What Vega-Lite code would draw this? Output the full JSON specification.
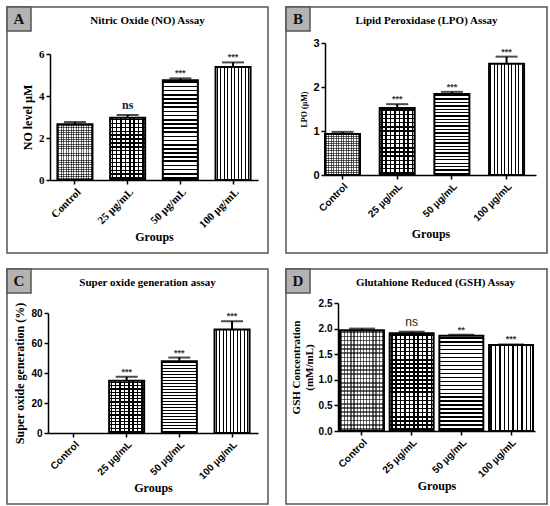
{
  "$schema": "https://vega.github.io/schema/vega-lite/v6.json",
  "background": "white",
  "padding": {"left": 5, "top": 5, "right": 0, "bottom": 0},
  "columns": 2,
  "align": "each",
  "spacing": {"row": 13, "column": 15},
  "params": [
    {"name": "gH24", "value": {"gradient": "linear", "x1": 0, "y1": 0, "x2": 0, "y2": 1, "stops": [
      {"offset":0.0125,"color":"#0000"},{"offset":0.0125,"color":"#000"},{"offset":0.0292,"color":"#000"},{"offset":0.0292,"color":"#0000"},
      {"offset":0.0542,"color":"#0000"},{"offset":0.0542,"color":"#000"},{"offset":0.0708,"color":"#000"},{"offset":0.0708,"color":"#0000"},
      {"offset":0.0958,"color":"#0000"},{"offset":0.0958,"color":"#000"},{"offset":0.1125,"color":"#000"},{"offset":0.1125,"color":"#0000"},
      {"offset":0.1375,"color":"#0000"},{"offset":0.1375,"color":"#000"},{"offset":0.1542,"color":"#000"},{"offset":0.1542,"color":"#0000"},
      {"offset":0.1792,"color":"#0000"},{"offset":0.1792,"color":"#000"},{"offset":0.1958,"color":"#000"},{"offset":0.1958,"color":"#0000"},
      {"offset":0.2208,"color":"#0000"},{"offset":0.2208,"color":"#000"},{"offset":0.2375,"color":"#000"},{"offset":0.2375,"color":"#0000"},
      {"offset":0.2625,"color":"#0000"},{"offset":0.2625,"color":"#000"},{"offset":0.2792,"color":"#000"},{"offset":0.2792,"color":"#0000"},
      {"offset":0.3042,"color":"#0000"},{"offset":0.3042,"color":"#000"},{"offset":0.3208,"color":"#000"},{"offset":0.3208,"color":"#0000"},
      {"offset":0.3458,"color":"#0000"},{"offset":0.3458,"color":"#000"},{"offset":0.3625,"color":"#000"},{"offset":0.3625,"color":"#0000"},
      {"offset":0.3875,"color":"#0000"},{"offset":0.3875,"color":"#000"},{"offset":0.4042,"color":"#000"},{"offset":0.4042,"color":"#0000"},
      {"offset":0.4292,"color":"#0000"},{"offset":0.4292,"color":"#000"},{"offset":0.4458,"color":"#000"},{"offset":0.4458,"color":"#0000"},
      {"offset":0.4708,"color":"#0000"},{"offset":0.4708,"color":"#000"},{"offset":0.4875,"color":"#000"},{"offset":0.4875,"color":"#0000"},
      {"offset":0.5125,"color":"#0000"},{"offset":0.5125,"color":"#000"},{"offset":0.5292,"color":"#000"},{"offset":0.5292,"color":"#0000"},
      {"offset":0.5542,"color":"#0000"},{"offset":0.5542,"color":"#000"},{"offset":0.5708,"color":"#000"},{"offset":0.5708,"color":"#0000"},
      {"offset":0.5958,"color":"#0000"},{"offset":0.5958,"color":"#000"},{"offset":0.6125,"color":"#000"},{"offset":0.6125,"color":"#0000"},
      {"offset":0.6375,"color":"#0000"},{"offset":0.6375,"color":"#000"},{"offset":0.6542,"color":"#000"},{"offset":0.6542,"color":"#0000"},
      {"offset":0.6792,"color":"#0000"},{"offset":0.6792,"color":"#000"},{"offset":0.6958,"color":"#000"},{"offset":0.6958,"color":"#0000"},
      {"offset":0.7208,"color":"#0000"},{"offset":0.7208,"color":"#000"},{"offset":0.7375,"color":"#000"},{"offset":0.7375,"color":"#0000"},
      {"offset":0.7625,"color":"#0000"},{"offset":0.7625,"color":"#000"},{"offset":0.7792,"color":"#000"},{"offset":0.7792,"color":"#0000"},
      {"offset":0.8042,"color":"#0000"},{"offset":0.8042,"color":"#000"},{"offset":0.8208,"color":"#000"},{"offset":0.8208,"color":"#0000"},
      {"offset":0.8458,"color":"#0000"},{"offset":0.8458,"color":"#000"},{"offset":0.8625,"color":"#000"},{"offset":0.8625,"color":"#0000"},
      {"offset":0.8875,"color":"#0000"},{"offset":0.8875,"color":"#000"},{"offset":0.9042,"color":"#000"},{"offset":0.9042,"color":"#0000"},
      {"offset":0.9292,"color":"#0000"},{"offset":0.9292,"color":"#000"},{"offset":0.9458,"color":"#000"},{"offset":0.9458,"color":"#0000"},
      {"offset":0.9708,"color":"#0000"},{"offset":0.9708,"color":"#000"},{"offset":0.9875,"color":"#000"},{"offset":0.9875,"color":"#0000"}
    ]}},
    {"name": "gV10", "value": {"gradient": "linear", "x1": 0, "y1": 0, "x2": 1, "y2": 0, "stops": [
      {"offset":0.03,"color":"#0000"},{"offset":0.03,"color":"#000"},{"offset":0.065,"color":"#000"},{"offset":0.065,"color":"#0000"},
      {"offset":0.13,"color":"#0000"},{"offset":0.13,"color":"#000"},{"offset":0.165,"color":"#000"},{"offset":0.165,"color":"#0000"},
      {"offset":0.23,"color":"#0000"},{"offset":0.23,"color":"#000"},{"offset":0.265,"color":"#000"},{"offset":0.265,"color":"#0000"},
      {"offset":0.33,"color":"#0000"},{"offset":0.33,"color":"#000"},{"offset":0.365,"color":"#000"},{"offset":0.365,"color":"#0000"},
      {"offset":0.43,"color":"#0000"},{"offset":0.43,"color":"#000"},{"offset":0.465,"color":"#000"},{"offset":0.465,"color":"#0000"},
      {"offset":0.53,"color":"#0000"},{"offset":0.53,"color":"#000"},{"offset":0.565,"color":"#000"},{"offset":0.565,"color":"#0000"},
      {"offset":0.63,"color":"#0000"},{"offset":0.63,"color":"#000"},{"offset":0.665,"color":"#000"},{"offset":0.665,"color":"#0000"},
      {"offset":0.73,"color":"#0000"},{"offset":0.73,"color":"#000"},{"offset":0.765,"color":"#000"},{"offset":0.765,"color":"#0000"},
      {"offset":0.83,"color":"#0000"},{"offset":0.83,"color":"#000"},{"offset":0.865,"color":"#000"},{"offset":0.865,"color":"#0000"},
      {"offset":0.93,"color":"#0000"},{"offset":0.93,"color":"#000"},{"offset":0.965,"color":"#000"},{"offset":0.965,"color":"#0000"}
    ]}},
    {"name": "gH16", "value": {"gradient": "linear", "x1": 0, "y1": 0, "x2": 0, "y2": 1, "stops": [
      {"offset":0.0203,"color":"#0000"},{"offset":0.0203,"color":"#000"},{"offset":0.0422,"color":"#000"},{"offset":0.0422,"color":"#0000"},
      {"offset":0.0828,"color":"#0000"},{"offset":0.0828,"color":"#000"},{"offset":0.1047,"color":"#000"},{"offset":0.1047,"color":"#0000"},
      {"offset":0.1453,"color":"#0000"},{"offset":0.1453,"color":"#000"},{"offset":0.1672,"color":"#000"},{"offset":0.1672,"color":"#0000"},
      {"offset":0.2078,"color":"#0000"},{"offset":0.2078,"color":"#000"},{"offset":0.2297,"color":"#000"},{"offset":0.2297,"color":"#0000"},
      {"offset":0.2703,"color":"#0000"},{"offset":0.2703,"color":"#000"},{"offset":0.2922,"color":"#000"},{"offset":0.2922,"color":"#0000"},
      {"offset":0.3328,"color":"#0000"},{"offset":0.3328,"color":"#000"},{"offset":0.3547,"color":"#000"},{"offset":0.3547,"color":"#0000"},
      {"offset":0.3953,"color":"#0000"},{"offset":0.3953,"color":"#000"},{"offset":0.4172,"color":"#000"},{"offset":0.4172,"color":"#0000"},
      {"offset":0.4578,"color":"#0000"},{"offset":0.4578,"color":"#000"},{"offset":0.4797,"color":"#000"},{"offset":0.4797,"color":"#0000"},
      {"offset":0.5203,"color":"#0000"},{"offset":0.5203,"color":"#000"},{"offset":0.5422,"color":"#000"},{"offset":0.5422,"color":"#0000"},
      {"offset":0.5828,"color":"#0000"},{"offset":0.5828,"color":"#000"},{"offset":0.6047,"color":"#000"},{"offset":0.6047,"color":"#0000"},
      {"offset":0.6453,"color":"#0000"},{"offset":0.6453,"color":"#000"},{"offset":0.6672,"color":"#000"},{"offset":0.6672,"color":"#0000"},
      {"offset":0.7078,"color":"#0000"},{"offset":0.7078,"color":"#000"},{"offset":0.7297,"color":"#000"},{"offset":0.7297,"color":"#0000"},
      {"offset":0.7703,"color":"#0000"},{"offset":0.7703,"color":"#000"},{"offset":0.7922,"color":"#000"},{"offset":0.7922,"color":"#0000"},
      {"offset":0.8328,"color":"#0000"},{"offset":0.8328,"color":"#000"},{"offset":0.8547,"color":"#000"},{"offset":0.8547,"color":"#0000"},
      {"offset":0.8953,"color":"#0000"},{"offset":0.8953,"color":"#000"},{"offset":0.9172,"color":"#000"},{"offset":0.9172,"color":"#0000"},
      {"offset":0.9578,"color":"#0000"},{"offset":0.9578,"color":"#000"},{"offset":0.9797,"color":"#000"},{"offset":0.9797,"color":"#0000"}
    ]}},
    {"name": "gV8", "value": {"gradient": "linear", "x1": 0, "y1": 0, "x2": 1, "y2": 0, "stops": [
      {"offset":0.0406,"color":"#0000"},{"offset":0.0406,"color":"#000"},{"offset":0.0844,"color":"#000"},{"offset":0.0844,"color":"#0000"},
      {"offset":0.1656,"color":"#0000"},{"offset":0.1656,"color":"#000"},{"offset":0.2094,"color":"#000"},{"offset":0.2094,"color":"#0000"},
      {"offset":0.2906,"color":"#0000"},{"offset":0.2906,"color":"#000"},{"offset":0.3344,"color":"#000"},{"offset":0.3344,"color":"#0000"},
      {"offset":0.4156,"color":"#0000"},{"offset":0.4156,"color":"#000"},{"offset":0.4594,"color":"#000"},{"offset":0.4594,"color":"#0000"},
      {"offset":0.5406,"color":"#0000"},{"offset":0.5406,"color":"#000"},{"offset":0.5844,"color":"#000"},{"offset":0.5844,"color":"#0000"},
      {"offset":0.6656,"color":"#0000"},{"offset":0.6656,"color":"#000"},{"offset":0.7094,"color":"#000"},{"offset":0.7094,"color":"#0000"},
      {"offset":0.7906,"color":"#0000"},{"offset":0.7906,"color":"#000"},{"offset":0.8344,"color":"#000"},{"offset":0.8344,"color":"#0000"},
      {"offset":0.9156,"color":"#0000"},{"offset":0.9156,"color":"#000"},{"offset":0.9594,"color":"#000"},{"offset":0.9594,"color":"#0000"}
    ]}},
    {"name": "gV14", "value": {"gradient": "linear", "x1": 0, "y1": 0, "x2": 1, "y2": 0, "stops": [
      {"offset":0.0214,"color":"#0000"},{"offset":0.0214,"color":"#000"},{"offset":0.05,"color":"#000"},{"offset":0.05,"color":"#0000"},
      {"offset":0.0929,"color":"#0000"},{"offset":0.0929,"color":"#000"},{"offset":0.1214,"color":"#000"},{"offset":0.1214,"color":"#0000"},
      {"offset":0.1643,"color":"#0000"},{"offset":0.1643,"color":"#000"},{"offset":0.1929,"color":"#000"},{"offset":0.1929,"color":"#0000"},
      {"offset":0.2357,"color":"#0000"},{"offset":0.2357,"color":"#000"},{"offset":0.2643,"color":"#000"},{"offset":0.2643,"color":"#0000"},
      {"offset":0.3071,"color":"#0000"},{"offset":0.3071,"color":"#000"},{"offset":0.3357,"color":"#000"},{"offset":0.3357,"color":"#0000"},
      {"offset":0.3786,"color":"#0000"},{"offset":0.3786,"color":"#000"},{"offset":0.4071,"color":"#000"},{"offset":0.4071,"color":"#0000"},
      {"offset":0.45,"color":"#0000"},{"offset":0.45,"color":"#000"},{"offset":0.4786,"color":"#000"},{"offset":0.4786,"color":"#0000"},
      {"offset":0.5214,"color":"#0000"},{"offset":0.5214,"color":"#000"},{"offset":0.55,"color":"#000"},{"offset":0.55,"color":"#0000"},
      {"offset":0.5929,"color":"#0000"},{"offset":0.5929,"color":"#000"},{"offset":0.6214,"color":"#000"},{"offset":0.6214,"color":"#0000"},
      {"offset":0.6643,"color":"#0000"},{"offset":0.6643,"color":"#000"},{"offset":0.6929,"color":"#000"},{"offset":0.6929,"color":"#0000"},
      {"offset":0.7357,"color":"#0000"},{"offset":0.7357,"color":"#000"},{"offset":0.7643,"color":"#000"},{"offset":0.7643,"color":"#0000"},
      {"offset":0.8071,"color":"#0000"},{"offset":0.8071,"color":"#000"},{"offset":0.8357,"color":"#000"},{"offset":0.8357,"color":"#0000"},
      {"offset":0.8786,"color":"#0000"},{"offset":0.8786,"color":"#000"},{"offset":0.9071,"color":"#000"},{"offset":0.9071,"color":"#0000"},
      {"offset":0.95,"color":"#0000"},{"offset":0.95,"color":"#000"},{"offset":0.9786,"color":"#000"},{"offset":0.9786,"color":"#0000"}
    ]}}
  ],
  "datasets": {
    "A": [
      {"group": "Control", "dose": 0, "value": 2.65, "hi": 2.76, "sig": ""},
      {"group": "25 µg/mL", "dose": 25, "value": 2.97, "hi": 3.1, "sig": "ns"},
      {"group": "50 µg/mL", "dose": 50, "value": 4.75, "hi": 4.84, "sig": "***"},
      {"group": "100 µg/mL", "dose": 100, "value": 5.38, "hi": 5.6, "sig": "***"}
    ],
    "B": [
      {"group": "Control", "dose": 0, "value": 0.93, "hi": 0.98, "sig": ""},
      {"group": "25 µg/mL", "dose": 25, "value": 1.52, "hi": 1.61, "sig": "***"},
      {"group": "50  µg/mL", "dose": 50, "value": 1.84, "hi": 1.89, "sig": "***"},
      {"group": "100  µg/mL", "dose": 100, "value": 2.53, "hi": 2.69, "sig": "***"}
    ],
    "C": [
      {"group": "Control", "dose": 0, "value": 0, "hi": 0, "sig": ""},
      {"group": "25  µg/mL", "dose": 25, "value": 34.8, "hi": 37.5, "sig": "***"},
      {"group": "50  µg/mL", "dose": 50, "value": 47.9, "hi": 50.3, "sig": "***"},
      {"group": "100  µg/mL", "dose": 100, "value": 69, "hi": 74.5, "sig": "***"}
    ],
    "D": [
      {"group": "Control", "dose": 0, "value": 1.97, "hi": 2.0, "sig": ""},
      {"group": "25  µg/mL", "dose": 25, "value": 1.91, "hi": 1.94, "sig": "ns"},
      {"group": "50  µg/mL", "dose": 50, "value": 1.86, "hi": 1.88, "sig": "**"},
      {"group": "100  µg/mL", "dose": 100, "value": 1.68, "hi": 1.69, "sig": "***"}
    ]
  },
  "concat": [
    {
      "width": 261,
      "height": 246,
      "title": {"text": "Nitric Oxide (NO) Assay", "dx": 10},
      "resolve": {"scale": {"x": "independent", "y": "independent"}},
      "layer": [
        {
          "data": {"name": "A"},
          "encoding": {
            "x": {"field": "group", "type": "nominal", "sort": null, "title": "Groups",
              "scale": {"domain": ["Control", "25 µg/mL", "50 µg/mL", "100 µg/mL"], "range": [43, 251], "paddingInner": 0.335, "paddingOuter": 0.141},
              "axis": {"offset": -73, "labelFont": "Liberation Serif", "labelFontSize": 11, "titlePadding": 2}},
            "y": {"field": "value", "type": "quantitative", "title": "NO level µM",
              "scale": {"domain": [0, 6], "range": [173, 47], "nice": false},
              "axis": {"offset": -43, "values": [0, 2, 4, 6], "labelFont": "Liberation Serif", "labelFontSize": 11}}
          },
          "layer": [
            {"mark": {"type": "bar", "fill": "#fff"}},
            {"transform": [{"filter": "datum.dose == 0"}], "mark": {"type": "bar", "fill": {"expr": "gH24"}, "opacity": 0.6}},
            {"transform": [{"filter": "datum.dose == 0"}], "mark": {"type": "bar", "fill": {"expr": "gV14"}, "opacity": 0.6}},
            {"transform": [{"filter": "datum.dose == 25"}], "mark": {"type": "bar", "fill": {"expr": "gH16"}}},
            {"transform": [{"filter": "datum.dose == 25"}], "mark": {"type": "bar", "fill": {"expr": "gV8"}}},
            {"transform": [{"filter": "datum.dose == 50"}], "mark": {"type": "bar", "fill": {"expr": "gH24"}}},
            {"transform": [{"filter": "datum.dose == 100"}], "mark": {"type": "bar", "fill": {"expr": "gV10"}}},
            {"mark": {"type": "bar", "fillOpacity": 0, "stroke": "#000", "strokeWidth": 2}},
            {"mark": {"type": "rule", "strokeWidth": 2, "color": "#000"}, "encoding": {"y2": {"field": "hi"}}},
            {"transform": [{"filter": "datum.value > 0"}], "mark": {"type": "tick", "thickness": 2, "size": 22, "color": "#000"},
              "encoding": {"y": {"field": "hi", "type": "quantitative", "title": "NO level µM"}}},
            {"transform": [{"filter": "datum.sig != 'ns'"}], "mark": {"type": "text", "baseline": "alphabetic", "dy": -2, "font": "Liberation Sans", "fontWeight": "bold", "fontSize": 9, "color": "#333"},
              "encoding": {"y": {"field": "hi", "type": "quantitative", "title": "NO level µM"}, "text": {"field": "sig"}}},
            {"transform": [{"filter": "datum.sig == 'ns'"}], "mark": {"type": "text", "baseline": "alphabetic", "dy": -6, "font": "Liberation Serif", "fontWeight": "bold", "fontSize": 12, "color": "#222"},
              "encoding": {"y": {"field": "hi", "type": "quantitative", "title": "NO level µM"}, "text": {"field": "sig"}}}
          ]
        },
        {
          "data": {"values": [{"letter": "A"}]},
          "encoding": {
            "x": {"datum": 0, "type": "quantitative", "scale": {"domain": [0, 1], "range": [0, 261]}, "axis": null},
            "y": {"datum": 0, "type": "quantitative", "scale": {"domain": [0, 1], "range": [0, 246]}, "axis": null}
          },
          "layer": [
            {"mark": {"type": "rect", "fill": "#b3b3b3", "stroke": "#555", "strokeWidth": 1.5}, "encoding": {"x2": {"datum": 0.092}, "y2": {"datum": 0.0976}}},
            {"mark": {"type": "text", "font": "Liberation Serif", "fontWeight": "bold", "fontSize": 15, "color": "#111", "baseline": "middle"},
              "encoding": {"x": {"datum": 0.046, "type": "quantitative"}, "y": {"datum": 0.049, "type": "quantitative"}, "text": {"field": "letter"}}}
          ]
        }
      ]
    },
    {
      "width": 261,
      "height": 246,
      "title": {"text": "Lipid Peroxidase (LPO) Assay", "dx": 10},
      "resolve": {"scale": {"x": "independent", "y": "independent"}},
      "layer": [
        {
          "data": {"name": "B"},
          "encoding": {
            "x": {"field": "group", "type": "nominal", "sort": null, "title": "Groups",
              "scale": {"domain": ["Control", "25 µg/mL", "50  µg/mL", "100  µg/mL"], "range": [39, 250], "paddingInner": 0.36, "paddingOuter": 0.109, "align": 0},
              "axis": {"offset": -78}},
            "y": {"field": "value", "type": "quantitative", "title": "LPO (µM)",
              "scale": {"domain": [0, 3], "range": [168, 36], "nice": false},
              "axis": {"offset": -39, "values": [0, 1, 2, 3], "labelFontSize": 11, "titleFontSize": 8}}
          },
          "layer": [
            {"mark": {"type": "bar", "fill": "#fff"}},
            {"transform": [{"filter": "datum.dose == 0"}], "mark": {"type": "bar", "fill": {"expr": "gH24"}, "opacity": 0.6}},
            {"transform": [{"filter": "datum.dose == 0"}], "mark": {"type": "bar", "fill": {"expr": "gV14"}, "opacity": 0.6}},
            {"transform": [{"filter": "datum.dose == 25"}], "mark": {"type": "bar", "fill": {"expr": "gH16"}}},
            {"transform": [{"filter": "datum.dose == 25"}], "mark": {"type": "bar", "fill": {"expr": "gV8"}}},
            {"transform": [{"filter": "datum.dose == 50"}], "mark": {"type": "bar", "fill": {"expr": "gH24"}}},
            {"transform": [{"filter": "datum.dose == 100"}], "mark": {"type": "bar", "fill": {"expr": "gV10"}}},
            {"mark": {"type": "bar", "fillOpacity": 0, "stroke": "#000", "strokeWidth": 2}},
            {"mark": {"type": "rule", "strokeWidth": 2, "color": "#000"}, "encoding": {"y2": {"field": "hi"}}},
            {"transform": [{"filter": "datum.value > 0"}], "mark": {"type": "tick", "thickness": 2, "size": 22, "color": "#000"},
              "encoding": {"y": {"field": "hi", "type": "quantitative", "title": "LPO (µM)"}}},
            {"mark": {"type": "text", "baseline": "alphabetic", "dy": -2, "font": "Liberation Sans", "fontWeight": "bold", "fontSize": 9, "color": "#333"},
              "encoding": {"y": {"field": "hi", "type": "quantitative", "title": "LPO (µM)"}, "text": {"field": "sig"}}}
          ]
        },
        {
          "data": {"values": [{"letter": "B"}]},
          "encoding": {
            "x": {"datum": 0, "type": "quantitative", "scale": {"domain": [0, 1], "range": [0, 261]}, "axis": null},
            "y": {"datum": 0, "type": "quantitative", "scale": {"domain": [0, 1], "range": [0, 246]}, "axis": null}
          },
          "layer": [
            {"mark": {"type": "rect", "fill": "#b3b3b3", "stroke": "#555", "strokeWidth": 1.5}, "encoding": {"x2": {"datum": 0.092}, "y2": {"datum": 0.0976}}},
            {"mark": {"type": "text", "font": "Liberation Serif", "fontWeight": "bold", "fontSize": 15, "color": "#111", "baseline": "middle"},
              "encoding": {"x": {"datum": 0.046, "type": "quantitative"}, "y": {"datum": 0.049, "type": "quantitative"}, "text": {"field": "letter"}}}
          ]
        }
      ]
    },
    {
      "width": 261,
      "height": 235,
      "title": {"text": "Super oxide generation assay", "dx": 10},
      "resolve": {"scale": {"x": "independent", "y": "independent"}},
      "layer": [
        {
          "data": {"name": "C"},
          "encoding": {
            "x": {"field": "group", "type": "nominal", "sort": null, "title": "Groups",
              "scale": {"domain": ["Control", "25  µg/mL", "50  µg/mL", "100  µg/mL"], "range": [41, 251], "paddingInner": 0.335, "paddingOuter": 0.16},
              "axis": {"offset": -71, "titlePadding": 0}},
            "y": {"field": "value", "type": "quantitative", "title": "Super oxide generation  (%)",
              "scale": {"domain": [0, 80], "range": [164, 44], "nice": false},
              "axis": {"offset": -41, "values": [0, 20, 40, 60, 80]}}
          },
          "layer": [
            {"transform": [{"filter": "datum.value > 0"}], "mark": {"type": "bar", "fill": "#fff"}},
            {"transform": [{"filter": "datum.dose == 25"}], "mark": {"type": "bar", "fill": {"expr": "gH16"}}},
            {"transform": [{"filter": "datum.dose == 25"}], "mark": {"type": "bar", "fill": {"expr": "gV8"}}},
            {"transform": [{"filter": "datum.dose == 50"}], "mark": {"type": "bar", "fill": {"expr": "gH24"}}},
            {"transform": [{"filter": "datum.dose == 100"}], "mark": {"type": "bar", "fill": {"expr": "gV10"}}},
            {"transform": [{"filter": "datum.value > 0"}], "mark": {"type": "bar", "fillOpacity": 0, "stroke": "#000", "strokeWidth": 2}},
            {"transform": [{"filter": "datum.value > 0"}], "mark": {"type": "rule", "strokeWidth": 2, "color": "#000"}, "encoding": {"y2": {"field": "hi"}}},
            {"transform": [{"filter": "datum.value > 0"}], "mark": {"type": "tick", "thickness": 2, "size": 22, "color": "#000"},
              "encoding": {"y": {"field": "hi", "type": "quantitative", "title": "Super oxide generation  (%)"}}},
            {"mark": {"type": "text", "baseline": "alphabetic", "dy": -2, "font": "Liberation Sans", "fontWeight": "bold", "fontSize": 9, "color": "#333"},
              "encoding": {"y": {"field": "hi", "type": "quantitative", "title": "Super oxide generation  (%)"}, "text": {"field": "sig"}}}
          ]
        },
        {
          "data": {"values": [{"letter": "C"}]},
          "encoding": {
            "x": {"datum": 0, "type": "quantitative", "scale": {"domain": [0, 1], "range": [0, 261]}, "axis": null},
            "y": {"datum": 0, "type": "quantitative", "scale": {"domain": [0, 1], "range": [0, 235]}, "axis": null}
          },
          "layer": [
            {"mark": {"type": "rect", "fill": "#b3b3b3", "stroke": "#555", "strokeWidth": 1.5}, "encoding": {"x2": {"datum": 0.092}, "y2": {"datum": 0.102}}},
            {"mark": {"type": "text", "font": "Liberation Serif", "fontWeight": "bold", "fontSize": 15, "color": "#111", "baseline": "middle"},
              "encoding": {"x": {"datum": 0.046, "type": "quantitative"}, "y": {"datum": 0.051, "type": "quantitative"}, "text": {"field": "letter"}}}
          ]
        }
      ]
    },
    {
      "width": 261,
      "height": 235,
      "title": {"text": "Glutahione Reduced (GSH) Assay", "dx": 19},
      "resolve": {"scale": {"x": "independent", "y": "independent"}},
      "layer": [
        {
          "data": {"name": "D"},
          "encoding": {
            "x": {"field": "group", "type": "nominal", "sort": null, "title": "Groups",
              "scale": {"domain": ["Control", "25  µg/mL", "50  µg/mL", "100  µg/mL"], "range": [52, 249], "paddingInner": 0.115, "paddingOuter": 0.04},
              "axis": {"offset": -73, "titlePadding": 0}},
            "y": {"field": "value", "type": "quantitative", "title": ["GSH Concentration", "(mM/mL)"],
              "scale": {"domain": [0, 2.5], "range": [162, 34], "nice": false},
              "axis": {"offset": -52, "values": [0, 0.5, 1, 1.5, 2, 2.5], "format": ".1f", "titleFontSize": 11}}
          },
          "layer": [
            {"mark": {"type": "bar", "fill": "#fff"}},
            {"transform": [{"filter": "datum.dose == 0"}], "mark": {"type": "bar", "fill": {"expr": "gH24"}, "opacity": 0.6}},
            {"transform": [{"filter": "datum.dose == 0"}], "mark": {"type": "bar", "fill": {"expr": "gV14"}, "opacity": 0.6}},
            {"transform": [{"filter": "datum.dose == 25"}], "mark": {"type": "bar", "fill": {"expr": "gH24"}}},
            {"transform": [{"filter": "datum.dose == 25"}], "mark": {"type": "bar", "fill": {"expr": "gV10"}}},
            {"transform": [{"filter": "datum.dose == 50"}], "mark": {"type": "bar", "fill": {"expr": "gH24"}}},
            {"transform": [{"filter": "datum.dose == 100"}], "mark": {"type": "bar", "fill": {"expr": "gV10"}}},
            {"mark": {"type": "bar", "fillOpacity": 0, "stroke": "#000", "strokeWidth": 2}},
            {"mark": {"type": "rule", "strokeWidth": 2, "color": "#000"}, "encoding": {"y2": {"field": "hi"}}},
            {"transform": [{"filter": "datum.value > 0"}], "mark": {"type": "tick", "thickness": 2, "size": 26, "color": "#000"},
              "encoding": {"y": {"field": "hi", "type": "quantitative", "title": ["GSH Concentration", "(mM/mL)"]}}},
            {"transform": [{"filter": "datum.sig != 'ns'"}], "mark": {"type": "text", "baseline": "alphabetic", "dy": -2, "font": "Liberation Sans", "fontWeight": "bold", "fontSize": 9, "color": "#333"},
              "encoding": {"y": {"field": "hi", "type": "quantitative", "title": ["GSH Concentration", "(mM/mL)"]}, "text": {"field": "sig"}}},
            {"transform": [{"filter": "datum.sig == 'ns'"}], "mark": {"type": "text", "baseline": "alphabetic", "dy": -6, "font": "Liberation Sans", "fontSize": 12, "color": "#222"},
              "encoding": {"y": {"field": "hi", "type": "quantitative", "title": ["GSH Concentration", "(mM/mL)"]}, "text": {"field": "sig"}}}
          ]
        },
        {
          "data": {"values": [{"letter": "D"}]},
          "encoding": {
            "x": {"datum": 0, "type": "quantitative", "scale": {"domain": [0, 1], "range": [0, 261]}, "axis": null},
            "y": {"datum": 0, "type": "quantitative", "scale": {"domain": [0, 1], "range": [0, 235]}, "axis": null}
          },
          "layer": [
            {"mark": {"type": "rect", "fill": "#b3b3b3", "stroke": "#555", "strokeWidth": 1.5}, "encoding": {"x2": {"datum": 0.092}, "y2": {"datum": 0.102}}},
            {"mark": {"type": "text", "font": "Liberation Serif", "fontWeight": "bold", "fontSize": 15, "color": "#111", "baseline": "middle"},
              "encoding": {"x": {"datum": 0.046, "type": "quantitative"}, "y": {"datum": 0.051, "type": "quantitative"}, "text": {"field": "letter"}}}
          ]
        }
      ]
    }
  ],
  "config": {
    "view": {"stroke": "#555", "strokeWidth": 1.5},
    "axis": {
      "grid": false,
      "domainColor": "#000",
      "domainWidth": 1.5,
      "tickColor": "#000",
      "tickWidth": 1.5,
      "tickSize": 4,
      "labelColor": "#000",
      "labelFont": "Liberation Sans",
      "labelFontSize": 10,
      "labelFontWeight": "bold",
      "titleColor": "#000",
      "titleFont": "Liberation Serif",
      "titleFontWeight": "bold",
      "titleFontSize": 12
    },
    "axisX": {"labelAngle": -45, "titlePadding": 4},
    "axisY": {"titlePadding": 4},
    "title": {"font": "Liberation Serif", "fontSize": 11, "fontWeight": "bold", "color": "#000", "anchor": "middle", "frame": "group", "baseline": "alphabetic", "offset": -20}
  }
}
